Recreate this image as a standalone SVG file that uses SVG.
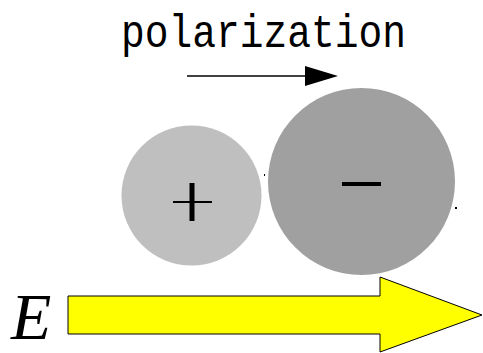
<svg xmlns="http://www.w3.org/2000/svg" width="483" height="353" viewBox="0 0 483 353">
<style>
.lbl{font-family:"Liberation Mono","DejaVu Sans Mono",monospace;font-size:46px;fill:#000}
.e{font-family:"Liberation Serif",serif;font-style:italic;font-size:66px;fill:#000}
.sign{stroke:#000;fill:none}
</style>
<rect width="483" height="353" fill="#fff"/>
<g id="title"><text class="lbl" x="121" y="47" textLength="285" lengthAdjust="spacingAndGlyphs">polarization</text></g>
<g id="connectors">
<line x1="187" y1="76" x2="306" y2="76" stroke="#000" stroke-width="1.5"/>
<polygon points="305,66 338,76 305,86" fill="#000"/>
</g>
<g id="positive">
<circle cx="191.5" cy="195.5" r="70" fill="#bfbfbf"/>
<line class="sign" x1="192" y1="183" x2="192" y2="221" stroke-width="5"/>
<line class="sign" x1="173" y1="202" x2="212" y2="202" stroke-width="2"/>
</g>
<g id="negative">
<circle cx="361.5" cy="181.5" r="93.5" fill="#a0a0a0"/>
<line class="sign" x1="342" y1="184" x2="381" y2="184" stroke-width="4"/>
</g>
<rect x="264" y="174" width="1" height="2" fill="#000"/>
<rect x="455" y="207" width="2" height="2" fill="#000"/>
<g id="field">
<polygon points="68,296 380,296 380,277 482,315 380,352 380,334 68,334" fill="#ffff00" stroke="#000" stroke-width="1"/>
<text class="e" x="11" y="339">E</text>
</g>
</svg>
